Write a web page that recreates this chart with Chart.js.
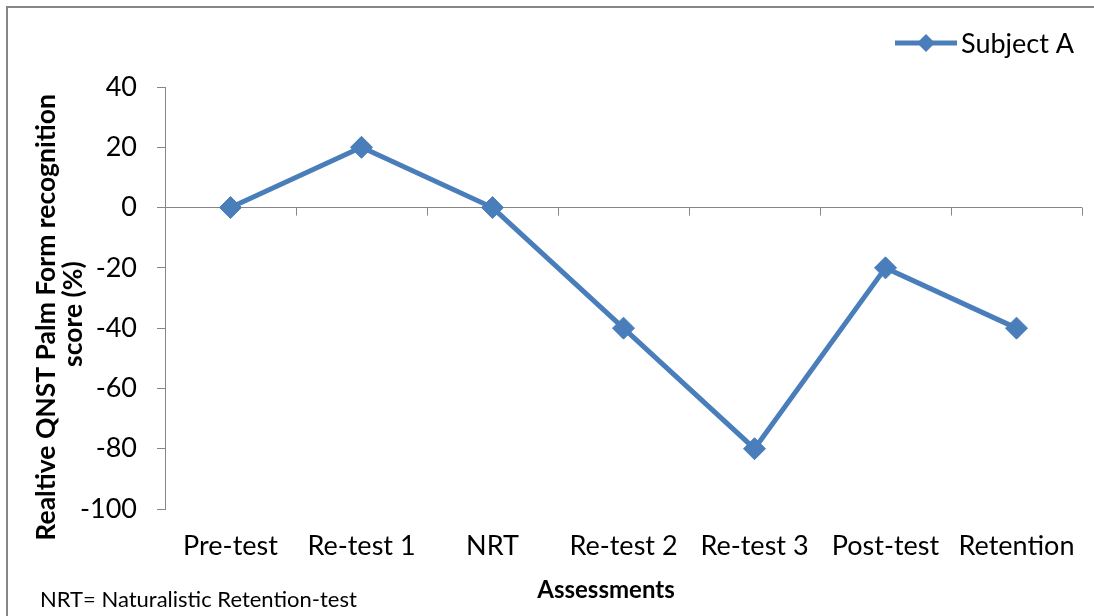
<!DOCTYPE html>
<html lang="en">
<head>
  <meta charset="UTF-8" />
  <title>Subject A - QNST Palm Form</title>
  <script src="https://cdn.jsdelivr.net/npm/chart.js"></script>
  <style>
    html, body {
      margin: 0;
      padding: 0;
      background: #fff;
      overflow: hidden;
    }
    .frame {
      position: absolute;
      left: 6px;
      top: 6px;
      width: 1200px;
      height: 700px;
      border-left: 2px solid #868686;
      border-top: 2px solid #868686;
    }
    .chart-box {
      position: absolute;
      left: 0;
      top: 0;
      width: 1094px;
      height: 616px;
    }
    .note {
      position: absolute;
      left: 40px;
      top: 585px;
      font-family: Lato, sans-serif;
      font-size: 22px;
      color: #000;
    }
  </style>
</head>
<body>
  <div class="frame"></div>
  <div class="chart-box">
    <canvas id="qnstChart" width="1094" height="616"></canvas>
  </div>
  <div class="note">NRT= Naturalistic Retention-test</div>

  <script>
    const assessments = ["Pre-test", "Re-test 1", "NRT", "Re-test 2", "Re-test 3", "Post-test", "Retention"];
    const subjectA = [0, 20, 0, -40, -80, -20, -40];
    const yTicks = [40, 20, 0, -20, -40, -60, -80, -100];

    const blue = '#4a7ebb';
    const axisGray = '#868686';

    // tick marks on the zero line between categories + legend in the corner
    const extras = {
      id: 'extras',
      afterDraw(chart) {
        const { ctx, chartArea } = chart;
        const x = chart.scales.x;
        const y0 = chart.scales.y.getPixelForValue(0);
        ctx.save();
        ctx.strokeStyle = axisGray;
        ctx.lineWidth = 1;
        for (let i = 0; i < assessments.length; i++) {
          const px = i < assessments.length - 1
            ? (x.getPixelForValue(i) + x.getPixelForValue(i + 1)) / 2
            : chartArea.right;
          ctx.beginPath();
          ctx.moveTo(Math.round(px) + 0.5, y0);
          ctx.lineTo(Math.round(px) + 0.5, y0 + 8);
          ctx.stroke();
        }

        // legend
        const ds = chart.data.datasets[0];
        const lx = 895, ly = 43;
        ctx.strokeStyle = ds.borderColor;
        ctx.lineWidth = 5;
        ctx.beginPath();
        ctx.moveTo(lx, ly);
        ctx.lineTo(lx + 62, ly);
        ctx.stroke();
        ctx.fillStyle = ds.pointBackgroundColor;
        ctx.beginPath();
        ctx.moveTo(lx + 31, ly - 9);
        ctx.lineTo(lx + 40, ly);
        ctx.lineTo(lx + 31, ly + 9);
        ctx.lineTo(lx + 22, ly);
        ctx.closePath();
        ctx.fill();
        ctx.fillStyle = '#000';
        ctx.font = '27px Lato, sans-serif';
        ctx.textBaseline = 'middle';
        ctx.fillText(ds.label, lx + 66, ly + 1);
        ctx.restore();
      }
    };

    const ctx = document.getElementById('qnstChart').getContext('2d');
    new Chart(ctx, {
      type: 'line',
      data: {
        labels: assessments,
        datasets: [{
          label: 'Subject A',
          data: subjectA,
          borderColor: blue,
          backgroundColor: blue,
          pointBackgroundColor: blue,
          pointBorderColor: blue,
          borderWidth: 5,
          pointStyle: 'rectRot',
          pointRadius: 11,
          pointBorderWidth: 1,
          tension: 0
        }]
      },
      options: {
        responsive: false,
        animation: false,
        layout: { padding: { left: 0, right: 12, top: 87, bottom: 0 } },
        plugins: {
          legend: { display: false },
          tooltip: { enabled: false }
        },
        scales: {
          x: {
            offset: true,
            grid: { display: false, drawTicks: false },
            border: { display: false },
            ticks: {
              color: '#000',
              padding: 21,
              maxRotation: 0,
              autoSkip: false,
              font: { family: 'Lato', size: 27 }
            },
            title: {
              display: true,
              text: 'Assessments      ',
              color: '#000',
              font: { family: 'Lato', size: 24, weight: 'bold' },
              padding: { top: 0, bottom: 11 }
            },
            afterFit(scale) {
              scale.height = 107;
              scale.paddingLeft = 0;
              scale.paddingRight = 0;
            }
          },
          y: {
            min: -100,
            max: 40,
            afterBuildTicks(scale) { scale.ticks = yTicks.map(v => ({ value: v })); },
            grid: {
              color: c => (c.tick && c.tick.value === 0 ? axisGray : 'transparent'),
              tickColor: axisGray,
              tickLength: 8,
              drawTicks: true
            },
            border: { display: true, color: axisGray, width: 1 },
            ticks: {
              color: '#000',
              padding: 20,
              font: { family: 'Lato', size: 27 }
            },
            title: {
              display: true,
              text: ['Realtive QNST Palm Form recognition      ', 'score (%)     '],
              color: '#000',
              font: { family: 'Lato', size: 26.5, weight: 'bold', lineHeight: 1.02 },
              padding: { top: 33, bottom: 0 }
            },
            afterFit(scale) {
              scale.width = 165;
              scale.paddingTop = 0;
              scale.paddingBottom = 0;
            }
          }
        }
      },
      plugins: [extras]
    });
  </script>
</body>
</html>
